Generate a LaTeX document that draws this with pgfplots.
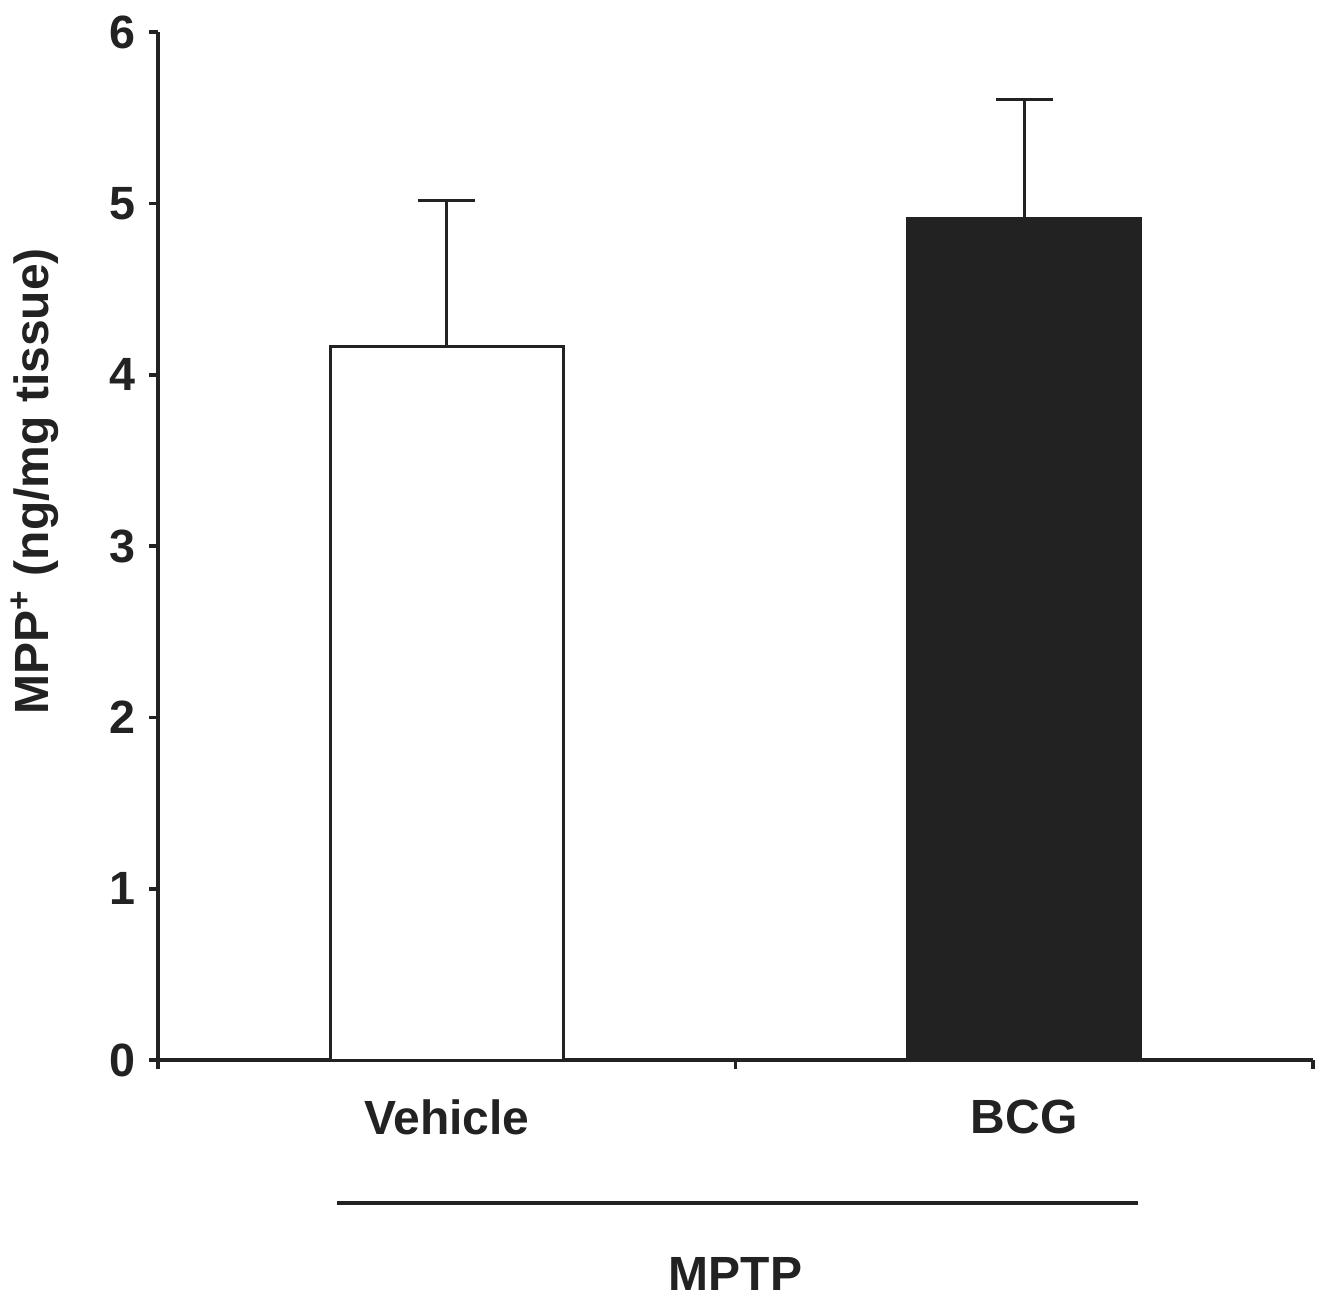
\documentclass[border=0pt]{standalone}
\usepackage{fontspec}
\setmainfont{Liberation Sans}
\usepackage{pgfplots}
\pgfplotsset{compat=1.18}
\definecolor{barblack}{HTML}{222222}
\begin{document}
\begin{tikzpicture}
\begin{axis}[
  scale only axis,
  width=346.5pt, height=308.4pt,
  xmin=0, xmax=2, ymin=0, ymax=6,
  axis x line*=bottom, axis y line*=left,
  axis line style={line width=1.3pt, color=barblack},
  ybar, bar shift=0pt, bar width=0.403,
  xtick={0,1,2}, xticklabels={},
  extra x ticks={0.5,1.5}, extra x tick labels={Vehicle,BCG},
  extra x tick style={major tick length=0pt, tick style={draw=none}, xticklabel style={yshift=-8.5pt, font=\fontsize{14.4}{17}\selectfont\bfseries, text=barblack}},
  ytick={0,1,2,3,4,5,6},
  tick align=outside,
  major tick length=2.6pt,
  tick style={line width=1.1pt, color=barblack},
  /pgf/number format/assume math mode=true,
  tick label style={font=\fontsize{14}{16}\selectfont\bfseries, text=barblack},
  yticklabel style={xshift=-0.6pt},
  ylabel={MPP\textsuperscript{+} (ng/mg tissue)},
  ylabel style={font=\fontsize{14.4}{17}\selectfont\bfseries, text=barblack, at={(axis description cs:-0.1065,0.563)}, anchor=center},
  clip=false,
  error bars/y dir=plus, error bars/y explicit,
  error bars/error mark=-,
  error bars/error mark options={line width=0.9pt, mark size=8.5pt, barblack, rotate=90},
  error bars/error bar style={line width=0.9pt, barblack},
]
\addplot[draw=barblack, fill=white, line width=0.9pt] coordinates {(0.5,4.162) +- (0,0.852)};
\addplot[draw=barblack, fill=barblack, line width=0.9pt] coordinates {(1.5,4.909) +- (0,0.700)};
\draw[line width=1.1pt, barblack] (axis cs:0.31,-0.835) -- (axis cs:1.697,-0.835);
\node[font=\fontsize{14.4}{17}\selectfont\bfseries, text=barblack, anchor=base] at (axis cs:1,-1.345) {MPTP};
\coordinate (bl) at (axis cs:-0.2736,-1.389);
\coordinate (tr) at (axis cs:2.0225,6.187);
\end{axis}
\pgfresetboundingbox
\path (bl) rectangle (tr);
\end{tikzpicture}
\end{document}
